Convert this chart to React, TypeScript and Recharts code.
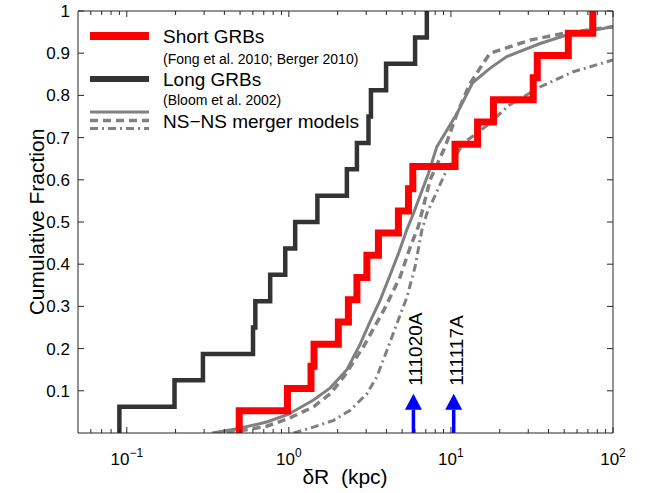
import React from 'react'
import { ComposedChart, Line, Scatter, XAxis, YAxis, ReferenceLine } from 'recharts'

const W = 654
const H = 493
const FONT = '"Liberation Sans", Arial, Helvetica, sans-serif'
const AXIS = '#262626'
const GREY = '#808080'

// host-normalised offsets (kpc)
const shortOffsets = [0.494, 0.98, 1.37, 1.43, 2.02, 2.33, 2.63, 3.03, 3.57, 4.74, 5.47, 5.82, 10.6, 14.6, 18.3, 32.2, 34.1, 53.0, 75.0]
const longOffsets = [0.09, 0.197, 0.295, 0.601, 0.621, 0.767, 0.95, 1.094, 1.5, 2.28, 2.63, 3.1, 3.21, 3.98, 6.01, 7.1]

// NS-NS merger model curves, [offset (kpc), cumulative fraction]
const modelSolid: [number, number][] = [
  [0.336, 0], [0.48, 0.01], [0.73, 0.026], [0.99, 0.044], [1.42, 0.078], [1.8, 0.107], [2.28, 0.15],
  [2.75, 0.21], [3.18, 0.265], [3.66, 0.315], [4.22, 0.375], [4.74, 0.425], [5.35, 0.482], [5.87, 0.52],
  [7.26, 0.615], [8.18, 0.678], [10.9, 0.757], [13.6, 0.83], [17.4, 0.864], [22.1, 0.892], [35.5, 0.923],
  [51.8, 0.943], [72, 0.953], [100, 0.963],
]
const modelDashed: [number, number][] = [
  [0.415, 0], [0.73, 0.016], [0.99, 0.034], [1.42, 0.062], [1.8, 0.093], [2.2, 0.135], [2.89, 0.205],
  [3.84, 0.29], [4.86, 0.37], [5.6, 0.44], [6.3, 0.49], [7.44, 0.6], [9.2, 0.678], [10.9, 0.757],
  [13.1, 0.828], [17.4, 0.9], [30.8, 0.931], [49.4, 0.947], [100, 0.963],
]
const modelDashDot: [number, number][] = [
  [1.07, 0], [1.42, 0.014], [1.89, 0.03], [2.39, 0.054], [3.03, 0.093], [3.49, 0.133], [4.03, 0.196],
  [4.64, 0.259], [5.35, 0.322], [6.01, 0.394], [6.61, 0.48], [7.1, 0.52], [9.21, 0.615], [11.9, 0.686],
  [17.4, 0.734], [22.5, 0.775], [35.5, 0.82], [56.9, 0.856], [100, 0.884],
]

// the two bursts marked with arrows
const burstNames = ['111020A', '111117A']
const burstOffsets = [5.87, 10.4]
const arrowTip = 0.093
const arrowShaft = 0.055

const xMajor = [0.1, 1, 10, 100]
const xExponents = ['\u22121', '0', '1', '2']
const xMinor = [0.06, 0.07, 0.08, 0.09, 0.2, 0.3, 0.4, 0.5, 0.6, 0.7, 0.8, 0.9, 2, 3, 4, 5, 6, 7, 8, 9, 20, 30, 40, 50, 60, 70, 80, 90]
const yTicks = [0.1, 0.2, 0.3, 0.4, 0.5, 0.6, 0.7, 0.8, 0.9, 1]
const yLabels = ['0.1', '0.2', '0.3', '0.4', '0.5', '0.6', '0.7', '0.8', '0.9', '1']

const xTicks = [...xMinor, ...xMajor].sort((a, b) => a - b)

// empirical cumulative distribution as stair points
const toStairs = (offs: number[]) => [
  { x: offs[0], y: 0 },
  ...offs.map((x, i) => ({ x, y: (i + 1) / offs.length })),
]
const toPoints = (pts: [number, number][]) => pts.map(([x, y]) => ({ x, y }))

const shortData = toStairs(shortOffsets)
const longData = toStairs(longOffsets)
const burstData = burstOffsets.map((x, i) => ({ x, y: arrowTip, name: burstNames[i] }))

const XTick = (top: boolean) => (props: any) => {
  const { x, y, payload } = props
  const idx = xMajor.indexOf(payload.value)
  const len = idx >= 0 ? 6 : 4
  return (
    <g>
      <line x1={x} x2={x} y1={y} y2={top ? y + len : y - len} stroke={AXIS} strokeWidth={1} />
      {!top && idx >= 0 && (
        <text x={x} y={y + 32} textAnchor="middle" fontSize={17} fontFamily={FONT} fill="#000">
          10<tspan dy={-8} fontSize={12}>{xExponents[idx]}</tspan>
        </text>
      )}
    </g>
  )
}

const YTick = (right: boolean) => (props: any) => {
  const { x, y, payload } = props
  const idx = yTicks.indexOf(payload.value)
  return (
    <g>
      <line x1={x} x2={right ? x - 6 : x + 6} y1={y} y2={y} stroke={AXIS} strokeWidth={1} />
      {!right && (
        <text x={x - 8} y={y + 6} textAnchor="end" fontSize={17} fontFamily={FONT} fill="#000">
          {yLabels[idx]}
        </text>
      )}
    </g>
  )
}

const ArrowHead = (props: any) => {
  const { cx, cy, payload } = props
  return (
    <g>
      <polygon points={`${cx},${cy} ${cx - 8.5},${cy + 16} ${cx + 8.5},${cy + 16}`} fill="#0000ff" />
      <text
        x={cx + 9}
        y={cy - 8}
        transform={`rotate(-90 ${cx + 9} ${cy - 8})`}
        fontSize={19}
        fontFamily={FONT}
        fill="#000"
      >
        {payload.name}
      </text>
    </g>
  )
}

const Overlay = () => (
  <svg width={W} height={H} style={{ position: 'absolute', left: 0, top: 0, pointerEvents: 'none' }}>
    <g fontFamily={FONT} fill="#000">
      <line x1={90} x2={149} y1={36} y2={36} stroke="#ff0000" strokeWidth={8} />
      <text x={163} y={43} fontSize={19}>Short GRBs</text>
      <text x={163} y={63.5} fontSize={14}>(Fong et al. 2010; Berger 2010)</text>
      <line x1={90} x2={149} y1={79} y2={79} stroke="#333333" strokeWidth={6} />
      <text x={163} y={86} fontSize={19}>Long GRBs</text>
      <text x={163} y={105} fontSize={14}>(Bloom et al. 2002)</text>
      <line x1={90} x2={149} y1={112} y2={112} stroke={GREY} strokeWidth={3} />
      <line x1={90} x2={149} y1={120.5} y2={120.5} stroke={GREY} strokeWidth={3.5} strokeDasharray="8 5" />
      <line x1={90} x2={149} y1={128.5} y2={128.5} stroke={GREY} strokeWidth={3} strokeDasharray="8 4 2 4" />
      <text x={163} y={127.5} fontSize={19}>NS{'\u2212'}NS merger models</text>
      <text x={44} y={222} transform="rotate(-90 44 222)" textAnchor="middle" fontSize={21}>
        Cumulative Fraction
      </text>
      <text x={345} y={484} textAnchor="middle" fontSize={21}>
        {'\u03b4R\u00a0\u00a0(kpc)'}
      </text>
    </g>
  </svg>
)

const axisCommon = {
  type: 'number' as const,
  allowDataOverflow: true,
  interval: 0 as const,
  tickSize: 0,
  tickMargin: 0,
  tickLine: false,
  stroke: AXIS,
}

export default function App() {
  return (
    <div style={{ position: 'absolute', left: 0, top: 0, width: W, height: H, background: '#fff' }}>
      <ComposedChart width={W} height={H} margin={{ top: 10, right: 40, bottom: 59, left: 77 }}>
        <XAxis {...axisCommon} dataKey="x" scale="log" domain={[0.05, 100]} ticks={xTicks} height={1} tick={XTick(false)} />
        <XAxis {...axisCommon} xAxisId="top" orientation="top" dataKey="x" scale="log" domain={[0.05, 100]} ticks={xTicks} height={1} tick={XTick(true)} />
        <YAxis {...axisCommon} domain={[0, 1]} ticks={yTicks} width={1} tick={YTick(false)} />
        <YAxis {...axisCommon} yAxisId="right" orientation="right" domain={[0, 1]} ticks={yTicks} width={1} tick={YTick(true)} />
        <Line data={toPoints(modelDashDot)} dataKey="y" type="linear" stroke={GREY} strokeWidth={3} strokeDasharray="8 4 2 4" dot={false} activeDot={false} isAnimationActive={false} />
        <Line data={toPoints(modelDashed)} dataKey="y" type="linear" stroke={GREY} strokeWidth={3.5} strokeDasharray="8 5" dot={false} activeDot={false} isAnimationActive={false} />
        <Line data={toPoints(modelSolid)} dataKey="y" type="linear" stroke={GREY} strokeWidth={3} dot={false} activeDot={false} isAnimationActive={false} />
        <Line data={longData} dataKey="y" type="stepAfter" stroke="#333333" strokeWidth={4.5} strokeLinejoin="miter" dot={false} activeDot={false} isAnimationActive={false} />
        <Line data={shortData} dataKey="y" type="stepAfter" stroke="#ff0000" strokeWidth={7} strokeLinejoin="miter" dot={false} activeDot={false} isAnimationActive={false} />
        {burstOffsets.map((x) => (
          <ReferenceLine key={x} segment={[{ x, y: 0 }, { x, y: arrowShaft }]} stroke="#0000ff" strokeWidth={3.5} />
        ))}
        <Scatter data={burstData} dataKey="y" shape={<ArrowHead />} isAnimationActive={false} />
      </ComposedChart>
      <Overlay />
    </div>
  )
}
